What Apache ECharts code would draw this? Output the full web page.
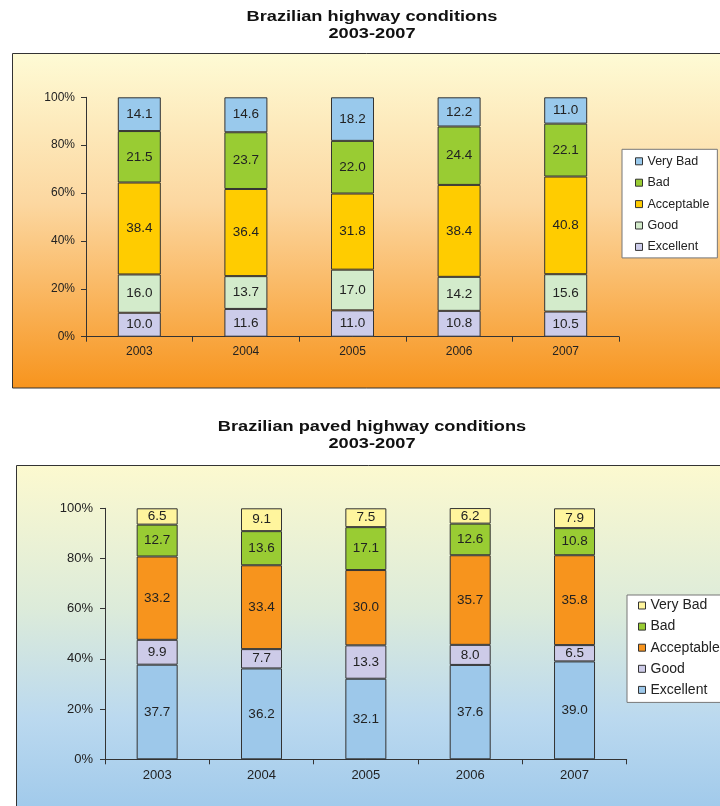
<!DOCTYPE html>
<html>
<head>
<meta charset="utf-8">
<script src="https://cdn.jsdelivr.net/npm/echarts@6/dist/echarts.min.js"></script>
<style>
html,body{margin:0;padding:0;background:#fff;}
#chart{width:720px;height:806px;}
</style>
</head>
<body>
<div id="chart"></div>
<script>
// ---- Data ----
const years = ['2003', '2004', '2005', '2006', '2007'];
const yTickLabels = ['0%', '20%', '40%', '60%', '80%', '100%'];
const categoryNames = ['Excellent', 'Good', 'Acceptable', 'Bad', 'Very Bad'];

// Chart 1: Brazilian highway conditions
const hwExcellent  = [10.0, 11.6, 11.0, 10.8, 10.5];
const hwGood       = [16.0, 13.7, 17.0, 14.2, 15.6];
const hwAcceptable = [38.4, 36.4, 31.8, 38.4, 40.8];
const hwBad        = [21.5, 23.7, 22.0, 24.4, 22.1];
const hwVeryBad    = [14.1, 14.6, 18.2, 12.2, 11.0];

// Chart 2: Brazilian paved highway conditions
const pvExcellent  = [37.7, 36.2, 32.1, 37.6, 39.0];
const pvGood       = [9.9, 7.7, 13.3, 8.0, 6.5];
const pvAcceptable = [33.2, 33.4, 30.0, 35.7, 35.8];
const pvBad        = [12.7, 13.6, 17.1, 12.6, 10.8];
const pvVeryBad    = [6.5, 9.1, 7.5, 6.2, 7.9];

const title1 = 'Brazilian highway conditions';
const title2 = 'Brazilian paved highway conditions';
const subtitle = '2003-2007';

// ---- Styles ----
const FONT = '"Liberation Sans", Arial, sans-serif';
const colorsTop = {
  'Excellent': '#CCCCEA', 'Good': '#D3EBCB', 'Acceptable': '#FFCC00',
  'Bad': '#99CC33', 'Very Bad': '#99C9EC'
};
const colorsBot = {
  'Excellent': '#9DC8EA', 'Good': '#CDCBE8', 'Acceptable': '#F7941D',
  'Bad': '#99CC33', 'Very Bad': '#FFF59D'
};
const hwData = [hwExcellent, hwGood, hwAcceptable, hwBad, hwVeryBad];
const pvData = [pvExcellent, pvGood, pvAcceptable, pvBad, pvVeryBad];

function makeSeries(dataArr, colors, idx, stack, barWidth, fs) {
  return categoryNames.map((name, i) => ({
    name: name,
    type: 'bar',
    stack: stack,
    xAxisIndex: idx,
    yAxisIndex: idx,
    barWidth: barWidth,
    data: dataArr[i],
    itemStyle: { color: colors[name], borderColor: '#333', borderWidth: 1 },
    label: {
      show: true, position: 'inside', color: '#222',
      fontFamily: FONT, fontSize: fs,
      formatter: p => Number(p.value).toFixed(1)
    },
    emphasis: { disabled: true }
  }));
}

function yAxisDef(idx, fs, margin) {
  return {
    type: 'value', gridIndex: idx, min: 0, max: 100, interval: 20,
    axisLine: { show: true, lineStyle: { color: '#333', width: 1 } },
    axisTick: { show: true, length: 5, lineStyle: { color: '#333' } },
    splitLine: { show: false },
    axisLabel: {
      color: '#222', fontFamily: FONT, fontSize: fs, margin: margin,
      formatter: v => yTickLabels[Math.round(v / 20)]
    }
  };
}
function xAxisDef(idx, fs, margin) {
  return {
    type: 'category', gridIndex: idx, data: years,
    axisLine: { show: true, lineStyle: { color: '#333', width: 1 } },
    axisTick: { show: true, length: 5, alignWithLabel: false, lineStyle: { color: '#333' } },
    axisLabel: { color: '#222', fontFamily: FONT, fontSize: fs, margin: margin }
  };
}
function legendDef(colors, left, top, fs, lh, gap, padding) {
  return {
    orient: 'vertical', left: left, top: top,
    data: categoryNames.slice().reverse().map(n => ({ name: n, itemStyle: { color: colors[n] } })),
    icon: 'rect', itemWidth: 7, itemHeight: 7, itemGap: gap,
    itemStyle: { borderColor: '#333', borderWidth: 1 },
    backgroundColor: '#fff', borderColor: '#777', borderWidth: 1, borderRadius: 0,
    padding: padding,
    selectedMode: false,
    textStyle: { color: '#222', fontFamily: FONT, fontSize: fs, lineHeight: lh }
  };
}
function titleText(text, y) {
  return {
    type: 'text', x: 372, y: y, scaleX: 1.3, scaleY: 1, z: 10,
    style: {
      text: text, x: 0, y: 0, textAlign: 'center', textVerticalAlign: 'middle',
      fill: '#111', font: 'bold 14px ' + FONT
    }
  };
}

const chart = echarts.init(document.getElementById('chart'), null, { renderer: 'canvas' });
chart.setOption({
  animation: false,
  backgroundColor: '#fff',
  graphic: {
    elements: [
      {
        type: 'rect', z: -10, shape: { x: 12.5, y: 53.5, width: 720, height: 334.5 },
        style: {
          stroke: '#333', lineWidth: 1,
          fill: new echarts.graphic.LinearGradient(0, 0, 0, 1, [
            { offset: 0, color: '#FEFBD5' },
            { offset: 0.45, color: '#FCD7A0' },
            { offset: 1, color: '#F7941D' }
          ])
        }
      },
      {
        type: 'rect', z: -10, shape: { x: 16.5, y: 465.5, width: 720, height: 360 },
        style: {
          stroke: '#333', lineWidth: 1,
          fill: new echarts.graphic.LinearGradient(0, 0, 0, 1, [
            { offset: 0, color: '#FCF9CF' },
            { offset: 0.4, color: '#DCEBDA' },
            { offset: 0.7, color: '#BBD9EF' },
            { offset: 1, color: '#9CC7EA' }
          ])
        }
      },
      titleText(title1, 16.7),
      titleText(subtitle, 34.3),
      titleText(title2, 426.7),
      titleText(subtitle, 444.3)
    ]
  },
  grid: [
    { left: 86, right: 101, top: 97.3, bottom: 806 - 336.7 },
    { left: 105, right: 93.3, top: 508.3, bottom: 806 - 759.3 }
  ],
  xAxis: [xAxisDef(0, 12, 9), xAxisDef(1, 13, 10)],
  yAxis: [yAxisDef(0, 12, 11), yAxisDef(1, 13, 12)],
  legend: [
    legendDef(colorsTop, 622, 149.3, 12.5, 14, 7.4, [5, 8, 4, 13]),
    legendDef(colorsBot, 627, 595, 14, 15, 6.1, [3, 20, 5, 11])
  ],
  series: makeSeries(hwData, colorsTop, 0, 'hw', 43, 13.5)
    .concat(makeSeries(pvData, colorsBot, 1, 'pv', 41, 13.5))
});
</script>
</body>
</html>
